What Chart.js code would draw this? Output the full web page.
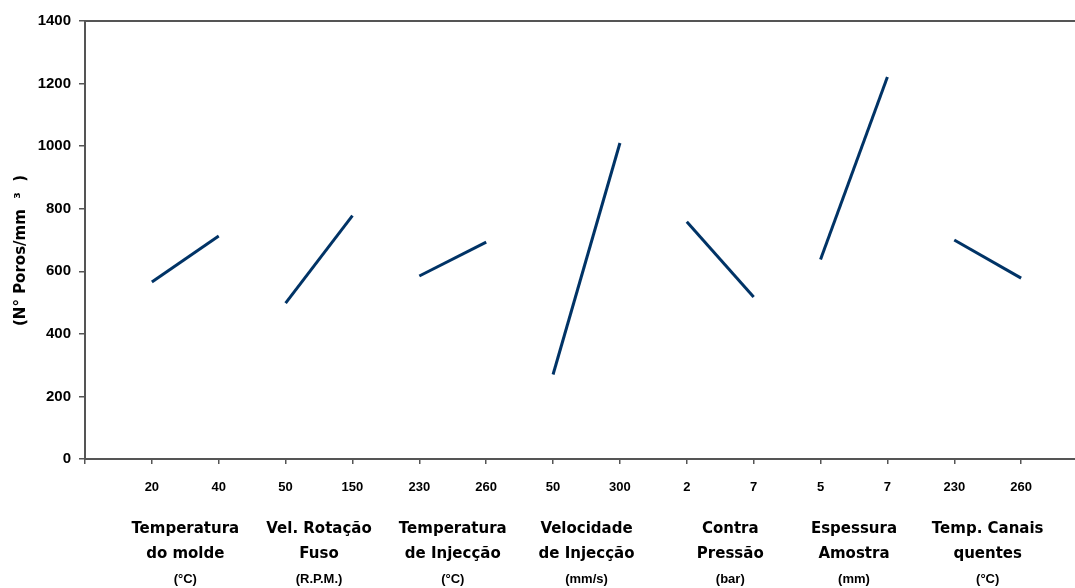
<!DOCTYPE html>
<html>
<head>
<meta charset="utf-8">
<script src="https://cdn.jsdelivr.net/npm/chart.js@4/dist/chart.umd.min.js"></script>
<style>
  html, body { margin: 0; padding: 0; background: #ffffff; overflow: hidden; }
  #wrap { width: 1104px; height: 588px; }
</style>
</head>
<body>
<div id="wrap"><canvas id="c" width="1104" height="588"></canvas></div>
<script>
// ---- data ----
const levels = ['20', '40', '50', '150', '230', '260', '50', '300', '2', '7', '5', '7', '230', '260'];
const poros = [566, 713, 498, 778, 585, 693, 270, 1010, 758, 518, 638, 1221, 700, 578];
const factors = [
  ['Temperatura', 'do molde'],
  ['Vel. Rotação', 'Fuso'],
  ['Temperatura', 'de Injecção'],
  ['Velocidade', 'de Injecção'],
  ['Contra', 'Pressão'],
  ['Espessura', 'Amostra'],
  ['Temp. Canais', 'quentes']
];
const units = ['(°C)', '(R.P.M.)', '(°C)', '(mm/s)', '(bar)', '(mm)', '(°C)'];
const yTicks = [0, 200, 400, 600, 800, 1000, 1200, 1400];
const yTitle = '(N° Poros/mm  ³  )';

// ---- layout helpers (not data) ----
const nameShift = [0, 0, 0, 0, 0.15, 0, 0];
const lineColor = '#003366';
const axisColor = '#555555';

// ---- build ----
const datasets = factors.map((f, k) => ({
  data: [
    { x: 2 * k + 1, y: poros[2 * k] },
    { x: 2 * k + 2, y: poros[2 * k + 1] }
  ],
  borderColor: lineColor,
  backgroundColor: lineColor,
  borderWidth: 3,
  pointRadius: 0,
  tension: 0,
  fill: false
}));

const factorTicks = factors.map((f, k) => ({ value: 2 * k + 1.5 + nameShift[k] }));
const nLevels = levels.length;

new Chart(document.getElementById('c'), {
  type: 'line',
  data: { datasets },
  options: {
    responsive: false,
    animation: false,
    layout: { padding: { left: 0, right: 5, top: 0, bottom: 0 } },
    plugins: { legend: { display: false }, tooltip: { enabled: false } },
    scales: {
      x: {
        type: 'linear',
        position: 'bottom',
        weight: 0,
        min: 0,
        max: nLevels + 1,
        afterBuildTicks: (s) => { s.ticks = Array.from({ length: nLevels + 2 }, (_, i) => ({ value: i })); },
        afterFit: (s) => { s.height = 50; },
        grid: { drawOnChartArea: false, drawTicks: true, tickLength: 5, color: axisColor, lineWidth: 1.5 },
        border: { display: true, color: axisColor, width: 2 },
        ticks: {
          autoSkip: false,
          maxRotation: 0,
          padding: 16,
          color: '#000',
          font: { family: 'Liberation Sans', size: 13, weight: 'bold' },
          callback: (v) => (v >= 1 && v <= nLevels ? levels[v - 1] : '')
        }
      },
      xNames: {
        type: 'linear',
        position: 'bottom',
        weight: 1,
        min: 0,
        max: nLevels + 1,
        afterBuildTicks: (s) => { s.ticks = factorTicks.map(t => ({ value: t.value })); },
        afterFit: (s) => { s.height = 56; },
        grid: { display: false, drawTicks: false, tickLength: 0 },
        border: { display: false },
        ticks: {
          autoSkip: false,
          maxRotation: 0,
          padding: 8,
          color: '#000',
          font: { family: 'DejaVu Sans', size: 15, weight: 'bold', lineHeight: 25 / 15 },
          callback: (v, i) => factors[i]
        }
      },
      xUnits: {
        type: 'linear',
        position: 'bottom',
        weight: 2,
        min: 0,
        max: nLevels + 1,
        afterBuildTicks: (s) => { s.ticks = factorTicks.map(t => ({ value: t.value })); },
        afterFit: (s) => { s.height = 23; },
        grid: { display: false, drawTicks: false, tickLength: 0 },
        border: { display: false },
        ticks: {
          autoSkip: false,
          maxRotation: 0,
          padding: 7,
          color: '#000',
          font: { family: 'Liberation Sans', size: 13, weight: 'bold' },
          callback: (v, i) => units[i]
        }
      },
      xTop: {
        type: 'linear',
        position: 'top',
        min: 0,
        max: nLevels + 1,
        afterFit: (s) => { s.height = 21; },
        grid: { display: false, drawTicks: false, tickLength: 0 },
        border: { display: true, color: axisColor, width: 2 },
        ticks: { display: false }
      },
      y: {
        type: 'linear',
        position: 'left',
        min: 0,
        max: 1400,
        afterBuildTicks: (s) => { s.ticks = yTicks.map(v => ({ value: v })); },
        afterFit: (s) => { s.width = 85; },
        grid: { drawOnChartArea: false, drawTicks: true, tickLength: 6, color: axisColor, lineWidth: 1.5 },
        border: { display: true, color: axisColor, width: 2 },
        ticks: {
          padding: 8,
          color: '#000',
          font: { family: 'Liberation Sans', size: 15, weight: 'bold' },
          callback: (v) => String(v)
        },
        title: {
          display: true,
          text: yTitle + '    ',
          color: '#000',
          padding: { top: 12, bottom: 0 },
          font: { family: 'DejaVu Sans', size: 15, weight: 'bold' }
        }
      }
    }
  }
});
</script>
</body>
</html>
